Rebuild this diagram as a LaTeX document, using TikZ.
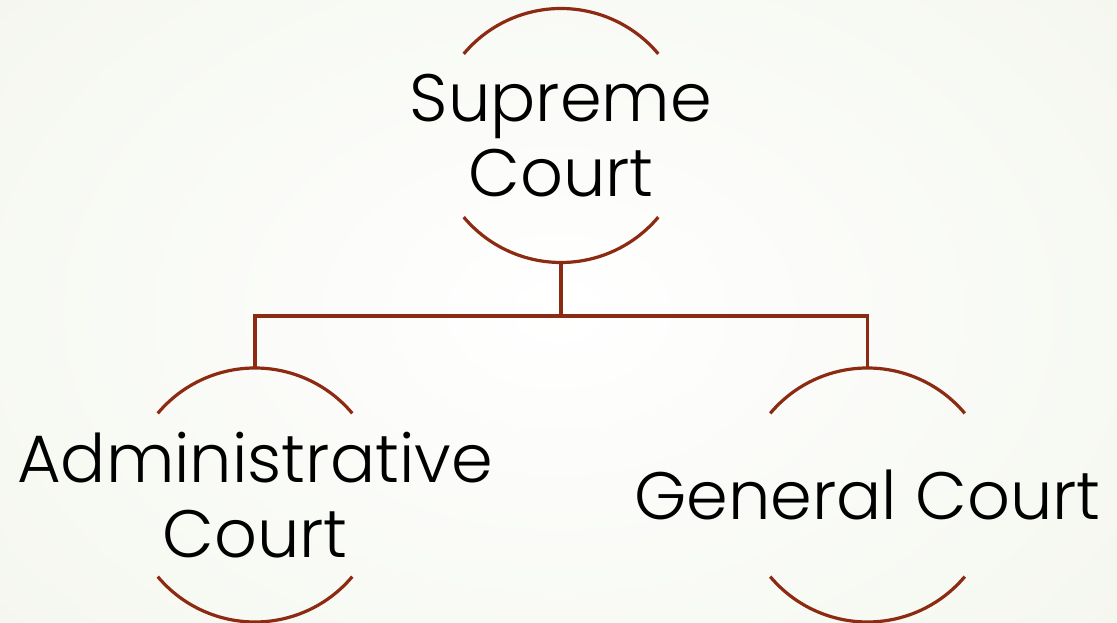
\documentclass[tikz,border=0pt]{standalone}
\usepackage{fontspec}
\setmainfont{Poppins Light}
\definecolor{ringred}{RGB}{140,42,18}
\definecolor{bgouter}{RGB}{243,246,237}
\begin{document}
\begin{tikzpicture}[x=1pt,y=1pt,
  ring/.style={circle,minimum size=254pt,inner sep=0pt,draw=none},
  arcline/.style={draw=ringred,line width=3.2pt},
  conn/.style={draw=ringred,line width=3.2pt},
  lbl/.style={align=center,text=black,inner sep=0pt,font=\fontsize{67}{75}\selectfont}]
\useasboundingbox (0,0) rectangle (1117,623);
\shade[inner color=white,outer color=bgouter] (-250,-250) rectangle (1367,873);
% circles
\node[ring] (s) at (561,487.5) {};
\node[ring] (a) at (255,128) {};
\node[ring] (g) at (867.5,128) {};
\foreach \n in {s,a,g}{
  \draw[arcline] ([shift={(40:127)}]\n.center) arc[start angle=40,end angle=140,radius=127];
  \draw[arcline] ([shift={(220:127)}]\n.center) arc[start angle=220,end angle=320,radius=127];
}
% labels
\node[lbl] (st) at (s.center) {Supreme\\Court};
\node[lbl] (at) at (a.center) {Administrative\\Court};
\node[lbl] (gt) at (g.center) {General Court};
% connectors
\coordinate (j) at (561,307);
\draw[conn] (s.south) -- (j);
\draw[conn] (j) -| (a.north);
\draw[conn] (j) -| (g.north);
\end{tikzpicture}
\end{document}
